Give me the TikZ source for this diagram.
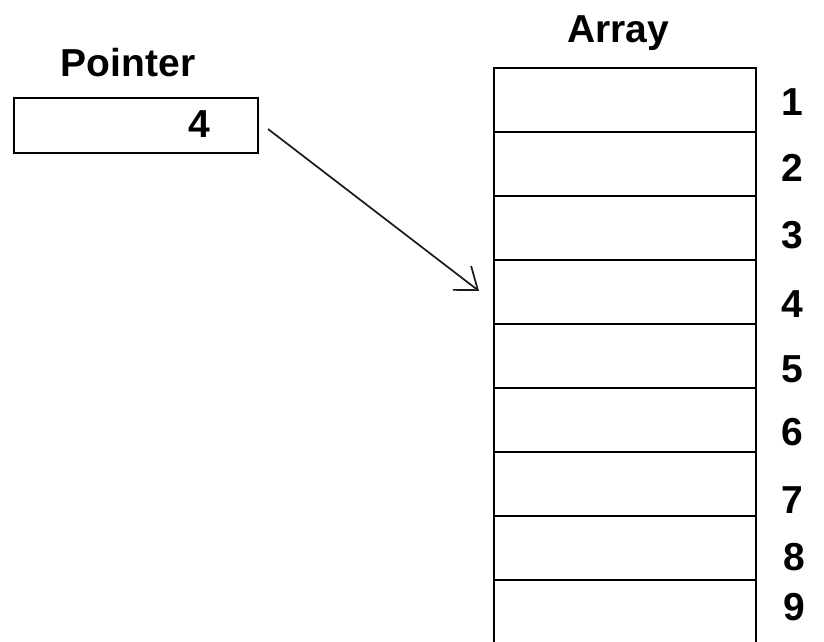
\documentclass[tikz,border=0pt]{standalone}
\usepackage{fontspec}
\setmainfont{Liberation Sans}
\usetikzlibrary{arrows.meta}
\tikzset{
  lbl/.style={font=\fontsize{39}{40}\selectfont\bfseries, inner sep=0pt},
  cellbox/.style={draw=black, line width=1.9pt, minimum width=262pt, minimum height=64pt, inner sep=0pt, anchor=north west},
  ptrbox/.style={draw=black, line width=1.9pt, minimum width=244pt, minimum height=55pt, inner sep=0pt, anchor=north west},
  ptrarrow/.style={draw=black!90, line width=1.7pt, -{Straight Barb[length=20pt,width=30pt,line width=1.7pt]}}
}
\begin{document}
\begin{tikzpicture}[x=1pt,y=-1pt]
\useasboundingbox (0,0) rectangle (824,642);
% pointer
\node[lbl, anchor=base] (ptitle) at (128,77) {Pointer};
\node[ptrbox] (pbox) at (13,97) {};
\node[lbl] (pval) at (199,124) {4};
% array
\node[lbl, anchor=base] (atitle) at (618,43) {Array};
\foreach \i in {1,...,8} {
  \node[cellbox] (c\i) at (493,{67+(\i-1)*64}) {};
}
\node[cellbox, minimum height=80pt] (c9) at (493,579) {};
% indices
\node[lbl] (n1) at (792,102) {1};
\node[lbl] (n2) at (792,168) {2};
\node[lbl] (n3) at (792,235) {3};
\node[lbl] (n4) at (792,304) {4};
\node[lbl] (n5) at (792,369) {5};
\node[lbl] (n6) at (792,432) {6};
\node[lbl] (n7) at (792,500) {7};
\node[lbl] (n8) at (794,557) {8};
\node[lbl] (n9) at (794,607) {9};
% arrow
\coordinate (astart) at (268,129);
\coordinate (aend) at (479,291);
\draw[ptrarrow] (astart) -- (aend);
\end{tikzpicture}
\end{document}
